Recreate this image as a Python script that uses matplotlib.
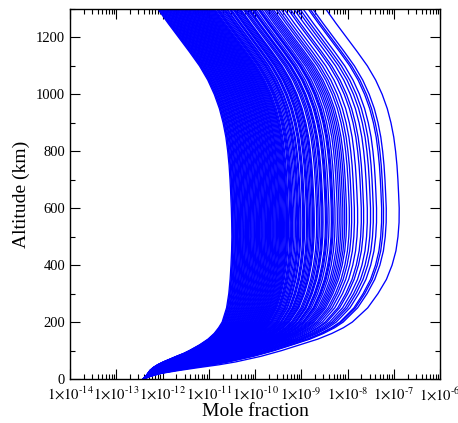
from matplotlib import pyplot as plt
from matplotlib.ticker import LogLocator, MultipleLocator, FuncFormatter, NullFormatter

import numpy as np

plt.rcParams["font.family"] = "serif"
plt.rcParams["font.serif"] = ["Liberation Serif", "DejaVu Serif"]
plt.rcParams["mathtext.fontset"] = "stix"

# altitude levels (km) the profile shapes were read at
altitudes = [0, 10, 20, 30, 40, 50, 60, 70, 80, 90, 100, 120, 140, 160, 180,
             200, 250, 300, 350, 400, 450, 500, 550, 600, 650, 700, 750, 800,
             850, 900, 950, 1000, 1050, 1100, 1150, 1200, 1250, 1300]

# fraction of the rise from the surface value to the peak, lowest-peak profile
rise_low = [0, 0.03, 0.052, 0.074, 0.11, 0.16, 0.224, 0.30, 0.375, 0.455, 0.52,
            0.635, 0.73, 0.80, 0.85, 0.89, 0.94, 0.965, 0.98, 0.99, 0.997, 1,
            1, 1, 1, 1, 1, 1, 1, 1, 1, 1, 1, 1, 1, 1, 1, 1]
# same for the highest-peak profile
rise_high = [0, 0.03, 0.072, 0.14, 0.215, 0.295, 0.36, 0.41, 0.46, 0.50, 0.54,
             0.61, 0.68, 0.735, 0.78, 0.815, 0.875, 0.915, 0.948, 0.97, 0.985,
             0.993, 0.998, 1, 1, 1, 1, 1, 1, 1, 1, 1, 1, 1, 1, 1, 1, 1]
# drop above the peak (decades)
top_drop = [0, 0, 0, 0, 0, 0, 0, 0, 0, 0, 0, 0, 0, 0, 0, 0, 0, 0, 0, 0, 0, 0,
            -0.004, -0.012, -0.025, -0.04, -0.06, -0.09, -0.13, -0.19, -0.27,
            -0.38, -0.52, -0.70, -0.92, -1.15, -1.38, -1.6]

surface_log = -12.415  # all profiles start from ~3.8e-13 at 0 km

# log10 of the peak mole fraction of each profile
peak_logs = [
    -10.50, -10.48, -10.47, -10.45, -10.43, -10.42, -10.40, -10.38, -10.37,
    -10.35, -10.33, -10.31, -10.30, -10.28, -10.26, -10.25, -10.23, -10.21,
    -10.20, -10.18, -10.16, -10.14, -10.13, -10.11, -10.09, -10.08, -10.06,
    -10.04, -10.02, -10.01, -9.99, -9.97, -9.96, -9.94, -9.92, -9.90, -9.89,
    -9.87, -9.85, -9.84, -9.82, -9.80, -9.78, -9.77, -9.75, -9.73, -9.72,
    -9.70, -9.68, -9.66, -9.65, -9.63, -9.61, -9.60, -9.58, -9.56, -9.54,
    -9.53, -9.51, -9.49, -9.47, -9.46, -9.44, -9.42, -9.40, -9.38, -9.36,
    -9.34, -9.32,
    -9.31, -9.29, -9.27, -9.24, -9.22, -9.20, -9.18, -9.15, -9.12, -9.09,
    -9.07, -9.05, -9.02, -9.00, -8.96, -8.94, -8.92, -8.88, -8.86, -8.84,
    -8.81, -8.78, -8.75, -8.73, -8.71, -8.66, -8.63, -8.60,
    -8.56, -8.54, -8.52, -8.47, -8.45, -8.43, -8.39, -8.34, -8.32, -8.30,
    -8.26, -8.21, -8.17, -8.13, -8.09, -8.05, -8.01,
    -7.95, -7.90, -7.84, -7.77, -7.69, -7.64, -7.56, -7.49, -7.43, -7.36,
    -7.25, -7.21, -7.15, -6.87,
]


def sci_label(x, pos):
    e = int(round(np.log10(x)))
    return r"$1{\times}10^{\text{-}%d}$" % abs(e)


fig = plt.figure(figsize=(4.58, 4.23), dpi=100)
ax = fig.add_axes([70 / 458, 1 - 379 / 423, 370 / 458, 370 / 423])

alt = np.array(altitudes)
r_lo = np.array(rise_low)
r_hi = np.array(rise_high)
drop = np.array(top_drop)
p_min, p_max = min(peak_logs), max(peak_logs)
for p in peak_logs:
    t = (p - p_min) / (p_max - p_min)
    rise = r_lo + t * (r_hi - r_lo)
    log_x = surface_log + (p - surface_log) * rise + drop
    ax.plot(10 ** log_x, alt, "-", color="#0000ff", lw=0.95)

ax.set_xscale("log")
ax.set_xlim(1e-14, 1e-6)
ax.set_ylim(0, 1300)

ax.xaxis.set_major_locator(LogLocator(base=10, numticks=20))
ax.xaxis.set_minor_locator(LogLocator(base=10, subs=np.arange(2, 10), numticks=20))
ax.xaxis.set_major_formatter(FuncFormatter(sci_label))
ax.xaxis.set_minor_formatter(NullFormatter())
ax.yaxis.set_major_locator(MultipleLocator(200))
ax.yaxis.set_minor_locator(MultipleLocator(100))

ax.tick_params(which="both", direction="in", top=True, right=True,
               width=0.8, labelsize=10.5)
ax.tick_params(which="major", length=7)
ax.tick_params(which="minor", length=3.6)
ax.tick_params(axis="x", which="major", pad=5)
for s in ax.spines.values():
    s.set_linewidth(1.0)

ax.set_xlabel("Mole fraction", fontsize=14, labelpad=0)
ax.set_ylabel("Altitude (km)", fontsize=14, labelpad=4)

plt.savefig("out.png", dpi=100)
plt.close()
